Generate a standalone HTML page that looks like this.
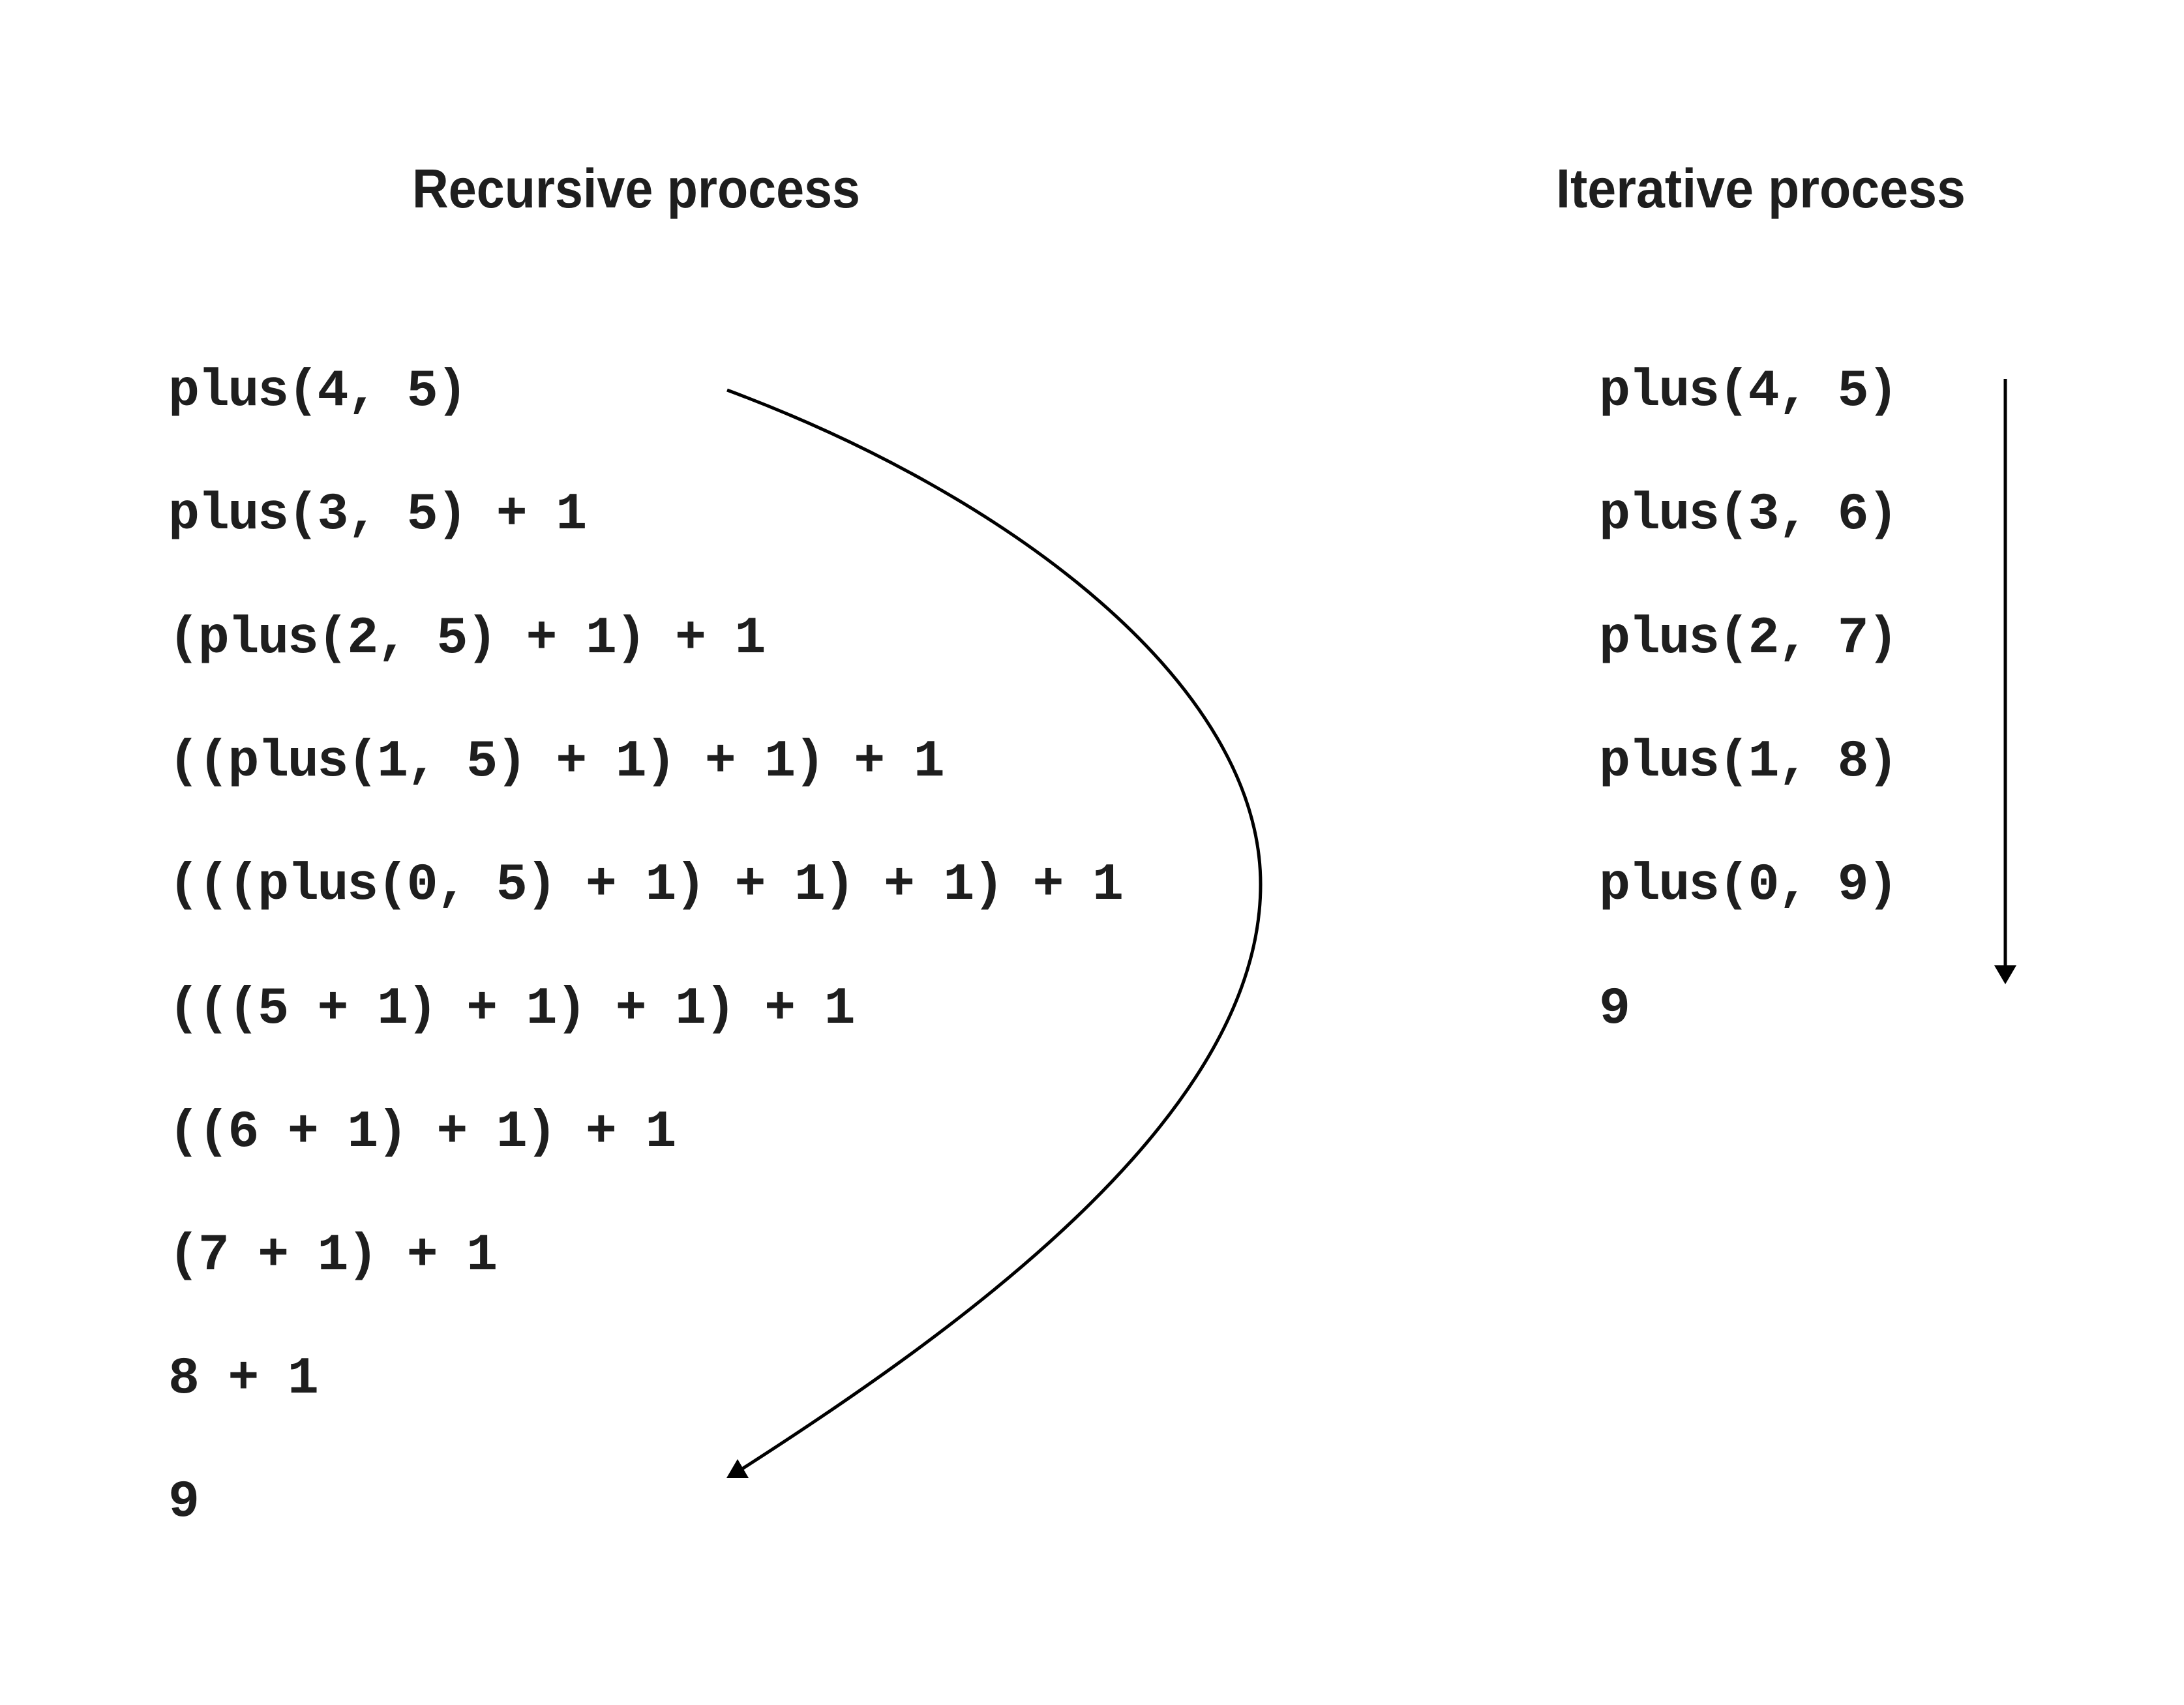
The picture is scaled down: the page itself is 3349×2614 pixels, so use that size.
<!DOCTYPE html>
<html><head><meta charset="utf-8"><style>
html,body{margin:0;padding:0;background:#fff;}
svg{display:block;}
.h{font-family:"Liberation Sans",sans-serif;font-weight:bold;font-size:84px;fill:#1e1e1e;}
.m{font-family:"Liberation Mono",monospace;font-weight:bold;font-size:80px;fill:#1e1e1e;letter-spacing:-2.3px;}
</style></head><body>
<svg width="3349" height="2614" viewBox="0 0 3349 2614" xmlns="http://www.w3.org/2000/svg">
<rect width="3349" height="2614" fill="#fff"/>
<text class="h" x="632" y="318" textLength="687" lengthAdjust="spacingAndGlyphs">Recursive process</text>
<text class="h" x="2386" y="318" textLength="628" lengthAdjust="spacingAndGlyphs">Iterative process</text>
<g class="m" xml:space="preserve">
<text x="258" y="621">plus(4, 5)</text>
<text x="258" y="810">plus(3, 5) + 1</text>
<text x="258" y="1000">(plus(2, 5) + 1) + 1</text>
<text x="258" y="1189">((plus(1, 5) + 1) + 1) + 1</text>
<text x="258" y="1378">(((plus(0, 5) + 1) + 1) + 1) + 1</text>
<text x="258" y="1568">(((5 + 1) + 1) + 1) + 1</text>
<text x="258" y="1757">((6 + 1) + 1) + 1</text>
<text x="258" y="1946">(7 + 1) + 1</text>
<text x="258" y="2135">8 + 1</text>
<text x="258" y="2324">9</text>
<text x="2452" y="621">plus(4, 5)</text>
<text x="2452" y="810">plus(3, 6)</text>
<text x="2452" y="1000">plus(2, 7)</text>
<text x="2452" y="1189">plus(1, 8)</text>
<text x="2452" y="1378">plus(0, 9)</text>
<text x="2452" y="1568">9</text>
</g>
<path d="M1115,598 C1550,760 1933,1050 1933,1356 C1933,1700 1500,2020 1138,2252" fill="none" stroke="#000" stroke-width="5"/>
<polygon points="1131,2237 1114,2266 1148,2266" fill="#000"/>
<line x1="3075" y1="581" x2="3075" y2="1485" stroke="#000" stroke-width="5"/>
<polygon points="3058,1480 3092,1480 3075,1509" fill="#000"/>
</svg>
</body></html>
